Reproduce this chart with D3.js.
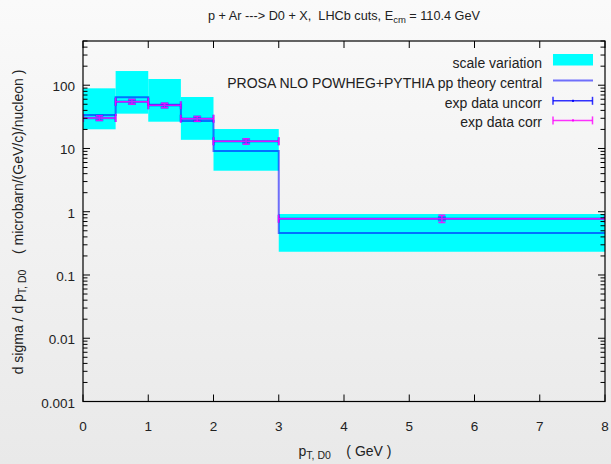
<!DOCTYPE html>
<html>
<head>
<meta charset="utf-8">
<script src="https://cdn.jsdelivr.net/npm/d3@7"></script>
<style>
  html, body { margin: 0; padding: 0; }
  body { width: 611px; height: 464px; overflow: hidden; }
  text { font-family: "Liberation Sans", Arial, Helvetica, sans-serif; fill: #222; }
</style>
</head>
<body>
<svg id="chart" width="611" height="464"></svg>
<script>
// ---- data ----
const binLo = [0, 0.5, 1.0, 1.5, 2.0, 3.0];
const binHi = [0.5, 1.0, 1.5, 2.0, 3.0, 8.0];
const bandLo = [20.1, 35.5, 26.5, 13.7, 4.45, 0.233];
const bandHi = [89.3, 167.6, 125.4, 65.1, 20.3, 0.92];
const theory = [33.8, 64.4, 49.2, 27.2, 9.12, 0.461];
const dataX = [0.25, 0.75, 1.25, 1.75, 2.5, 5.5];
const dataY = [30.3, 54.8, 48.1, 29.5, 12.97, 0.776];
const errUncorr = [2.2, 4.0, 3.5, 2.2, 0.9, 0.04];
const errCorr = [2.6, 4.6, 4.0, 2.6, 1.3, 0.1];
const xTicks = [0, 1, 2, 3, 4, 5, 6, 7, 8];
const yTicks = [0.001, 0.01, 0.1, 1, 10, 100];
const yTickLabels = ["0.001", "0.01", "0.1", "1", "10", "100"];
const legendLabels = ["scale variation", "PROSA NLO POWHEG+PYTHIA pp theory central", "exp data uncorr", "exp data corr"];

// ---- layout ----
const W = 611, H = 464;
const L = 83, R = 605, T = 41, B = 401.5;
const x = d3.scaleLinear().domain([0, 8]).range([L, R]);
const y = d3.scaleLog().domain([0.001, 500]).range([B, T]);

const svg = d3.select("#chart");
const defs = svg.append("defs");
const grad = defs.append("linearGradient").attr("id", "bg").attr("x1", 0).attr("y1", 0).attr("x2", 0).attr("y2", 1);
grad.append("stop").attr("offset", "0%").attr("stop-color", "#fafafa");
grad.append("stop").attr("offset", "100%").attr("stop-color", "#e9e9e9");
svg.append("rect").attr("width", W).attr("height", H).attr("fill", "url(#bg)");

defs.append("clipPath").attr("id", "clip").append("rect")
  .attr("x", L).attr("y", T).attr("width", R - L).attr("height", B - T);

const plot = svg.append("g").attr("clip-path", "url(#clip)");
const idx = d3.range(binLo.length);

// scale variation band
plot.selectAll("rect.band").data(idx).enter().append("rect")
  .attr("x", i => x(binLo[i]))
  .attr("width", i => x(binHi[i]) - x(binLo[i]))
  .attr("y", i => y(bandHi[i]))
  .attr("height", i => y(bandLo[i]) - y(bandHi[i]))
  .attr("fill", "#00ffff");

// theory step line
const stepPts = [];
idx.forEach(i => { stepPts.push([binLo[i], theory[i]]); stepPts.push([binHi[i], theory[i]]); });
plot.append("path")
  .attr("d", d3.line().x(d => x(d[0])).y(d => y(d[1]))(stepPts))
  .attr("fill", "none").attr("stroke", "#0000ff").attr("stroke-opacity", 0.55).attr("stroke-width", 2);

// data error bars
function drawErr(err, color, opac, sw, capH, capW, dotColor) {
  const g = plot.append("g").attr("stroke", color).attr("stroke-opacity", opac).attr("stroke-width", sw).attr("fill", "none");
  idx.forEach(i => {
    const cy = y(dataY[i]);
    g.append("line").attr("x1", x(binLo[i])).attr("x2", x(binHi[i])).attr("y1", cy).attr("y2", cy);
    g.append("line").attr("x1", x(binLo[i])).attr("x2", x(binLo[i])).attr("y1", cy - capH).attr("y2", cy + capH);
    g.append("line").attr("x1", x(binHi[i])).attr("x2", x(binHi[i])).attr("y1", cy - capH).attr("y2", cy + capH);
    const yt = y(dataY[i] + err[i]), yb = y(dataY[i] - err[i]);
    const cx = x(dataX[i]);
    g.append("line").attr("x1", cx).attr("x2", cx).attr("y1", yt).attr("y2", yb);
    g.append("line").attr("x1", cx - capW).attr("x2", cx + capW).attr("y1", yt).attr("y2", yt);
    g.append("line").attr("x1", cx - capW).attr("x2", cx + capW).attr("y1", yb).attr("y2", yb);
    g.append("rect").attr("x", cx - 1).attr("y", cy - 1).attr("width", 2).attr("height", 2).attr("fill", dotColor).attr("stroke", "none");
  });
}
drawErr(errUncorr, "#0000ff", 0.4, 2.5, 4, 4, "#0000ff");
drawErr(errCorr, "#ff00ff", 0.85, 1.5, 4, 3.5, "#a040ff");

// ---- axes / border ----
const ax = svg.append("g").attr("stroke", "#000").attr("stroke-width", 1);
xTicks.forEach(t => {
  ax.append("line").attr("x1", x(t)).attr("x2", x(t)).attr("y1", B).attr("y2", B - 7);
  ax.append("line").attr("x1", x(t)).attr("x2", x(t)).attr("y1", T).attr("y2", T + 7);
});
for (let e = -3; e <= 2; e++) {
  for (let m = 1; m <= 9; m++) {
    const v = m * Math.pow(10, e);
    if (v > 500) break;
    const len = m === 1 ? 7 : 4.5;
    ax.append("line").attr("x1", L).attr("x2", L + len).attr("y1", y(v)).attr("y2", y(v));
    ax.append("line").attr("x1", R).attr("x2", R - len).attr("y1", y(v)).attr("y2", y(v));
  }
}
svg.append("rect").attr("x", L).attr("y", T).attr("width", R - L).attr("height", B - T)
  .attr("fill", "none").attr("stroke", "#000").attr("stroke-width", 1.2);

// tick labels
svg.append("g").selectAll("text").data(xTicks).enter().append("text")
  .attr("x", d => x(d)).attr("y", 431).attr("text-anchor", "middle")
  .attr("font-size", 13.5).text(d => d);
svg.append("g").selectAll("text").data(yTicks).enter().append("text")
  .attr("x", 75).attr("y", d => y(d) + 6).attr("text-anchor", "end")
  .attr("font-size", 13.5).text((d, i) => yTickLabels[i]);

// title
const title = svg.append("text").attr("x", 344).attr("y", 20).attr("text-anchor", "middle").attr("font-size", 12.7).attr("xml:space", "preserve");
title.append("tspan").text("p + Ar ---> D0 + X,  LHCb cuts, E");
title.append("tspan").attr("font-size", 9.5).attr("dy", 3).text("cm");
title.append("tspan").attr("dy", -3).text(" = 110.4 GeV");

// x label
const xl = svg.append("text").attr("x", 345).attr("y", 456).attr("text-anchor", "middle").attr("font-size", 14).attr("xml:space", "preserve");
xl.append("tspan").text("p");
xl.append("tspan").attr("font-size", 10.5).attr("dy", 3).text("T, D0");
xl.append("tspan").attr("dy", -3).text("    ( GeV )");

// y label
const yl = svg.append("text").attr("transform", "translate(23,222) rotate(-90)").attr("text-anchor", "middle").attr("font-size", 14).attr("xml:space", "preserve");
yl.append("tspan").text("d sigma / d p");
yl.append("tspan").attr("font-size", 10.5).attr("dy", 3).text("T, D0");
yl.append("tspan").attr("dy", -3).text("    ( microbarn/(GeV/c)/nucleon )");

// ---- legend ----
const legY = [60, 80.5, 100.8, 120.4];
const legBase = [68.3, 88, 107.5, 126.7];
const lg = svg.append("g");
legendLabels.forEach((lab, i) => {
  lg.append("text").attr("x", 542).attr("y", legBase[i]).attr("text-anchor", "end").attr("font-size", 14).text(lab);
});
lg.append("rect").attr("x", 553).attr("y", 54).attr("width", 40).attr("height", 11.5).attr("fill", "#00ffff");
lg.append("line").attr("x1", 553).attr("x2", 593).attr("y1", legY[1]).attr("y2", legY[1])
  .attr("stroke", "#0000ff").attr("stroke-opacity", 0.55).attr("stroke-width", 2);
[["#0000ff", legY[2], 0.8], ["#ff00ff", legY[3], 0.8]].forEach(([c, yy, o]) => {
  const g = lg.append("g").attr("stroke", c).attr("stroke-opacity", o).attr("stroke-width", 1.5);
  g.append("line").attr("x1", 553).attr("x2", 592.5).attr("y1", yy).attr("y2", yy);
  g.append("line").attr("x1", 553).attr("x2", 553).attr("y1", yy - 4).attr("y2", yy + 4);
  g.append("line").attr("x1", 592.5).attr("x2", 592.5).attr("y1", yy - 4).attr("y2", yy + 4);
  lg.append("rect").attr("x", 572).attr("y", yy - 1).attr("width", 2).attr("height", 2).attr("fill", c);
});
</script>
</body>
</html>
